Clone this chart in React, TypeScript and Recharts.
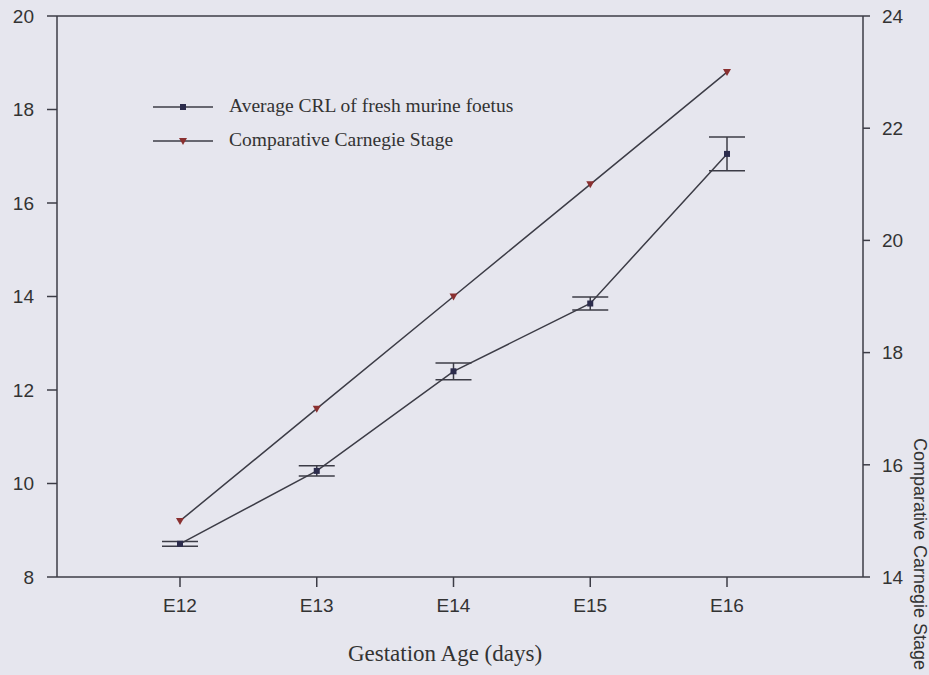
import { LineChart, Line, XAxis, YAxis, ErrorBar, ReferenceLine } from 'recharts';

const ages = ['E12', 'E13', 'E14', 'E15', 'E16'];
const crl = [8.71, 10.27, 12.4, 13.85, 17.05];
const crlErr = [0.05, 0.11, 0.18, 0.14, 0.36];
const carnegie = [15, 17, 19, 21, 23];
const leftTicks = [8, 10, 12, 14, 16, 18, 20];
const rightTicks = [14, 16, 18, 20, 22, 24];

const data = ages.map((age, i) => ({
  age,
  crl: crl[i],
  crlErr: crlErr[i],
  carnegie: carnegie[i],
}));

const bg = '#e6e6ee';
const ink = '#3c3c46';
const sans = 'Arial, "Liberation Sans", sans-serif';
const serif = '"Times New Roman", "Liberation Serif", serif';

const SquareDot = (props: any) => {
  const { cx, cy, index } = props;
  return <rect key={`s${index}`} x={cx - 3} y={cy - 3} width={6} height={6} fill="#2c2c4c" />;
};

const TriangleDot = (props: any) => {
  const { cx, cy, index } = props;
  return (
    <path
      key={`t${index}`}
      d={`M${cx - 4},${cy - 3} L${cx + 4},${cy - 3} L${cx},${cy + 4} Z`}
      fill="#8a3030"
    />
  );
};

const LegendBox = () => (
  <div style={{ position: 'absolute', left: 153, top: 95, fontFamily: serif, fontSize: 19.5, color: '#333' }}>
    <svg width={70} height={60} style={{ position: 'absolute', left: 0, top: 0 }}>
      <line x1={0} y1={12} x2={60} y2={12} stroke={ink} strokeWidth={1.3} />
      <rect x={27} y={9} width={6} height={6} fill="#2c2c4c" />
      <line x1={0} y1={46} x2={60} y2={46} stroke={ink} strokeWidth={1.3} />
      <path d="M26,43 L34,43 L30,50 Z" fill="#8a3030" />
    </svg>
    <div style={{ position: 'absolute', left: 76, top: 0, whiteSpace: 'nowrap' }}>
      Average CRL of fresh murine foetus
    </div>
    <div style={{ position: 'absolute', left: 76, top: 34, whiteSpace: 'nowrap' }}>
      Comparative Carnegie Stage
    </div>
  </div>
);

export default function App() {
  return (
    <div style={{ position: 'absolute', left: 0, top: 0, width: 929, height: 675, background: bg, overflow: 'hidden' }}>
      <LineChart width={929} height={675} data={data} margin={{ top: 16, right: 0, bottom: 58, left: 0 }}>
        <XAxis
          dataKey="age"
          xAxisId="bottom"
          height={40}
          padding={{ left: 123, right: 136 }}
          stroke={ink}
          strokeWidth={1.5}
          tickSize={10}
          tickMargin={12}
          tick={{ fill: '#333', fontSize: 19, fontFamily: sans }}
        />
        <YAxis
          yAxisId="left"
          width={57}
          domain={[8, 20]}
          ticks={leftTicks}
          stroke={ink}
          strokeWidth={1.5}
          tickSize={10}
          tickMargin={13}
          tick={{ fill: '#333', fontSize: 19, fontFamily: sans }}
        />
        <YAxis
          yAxisId="right"
          orientation="right"
          width={66}
          domain={[14, 24]}
          ticks={rightTicks}
          stroke={ink}
          strokeWidth={1.5}
          tickSize={7}
          tickMargin={12}
          tick={{ fill: '#333', fontSize: 19, fontFamily: sans }}
        />
        <ReferenceLine xAxisId="bottom" yAxisId="left" y={20} stroke={ink} strokeWidth={1.5} />
        <Line
          xAxisId="bottom"
          yAxisId="left"
          dataKey="crl"
          type="linear"
          stroke={ink}
          strokeWidth={1.5}
          dot={SquareDot}
          isAnimationActive={false}
        >
          <ErrorBar dataKey="crlErr" width={18} stroke={ink} strokeWidth={1.5} direction="y" />
        </Line>
        <Line
          xAxisId="bottom"
          yAxisId="right"
          dataKey="carnegie"
          type="linear"
          stroke={ink}
          strokeWidth={1.5}
          dot={TriangleDot}
          isAnimationActive={false}
        />
        <text x={445} y={661} textAnchor="middle" fontFamily={serif} fontSize={23} fill="#333">
          Gestation Age (days)
        </text>
        <text
          x={914}
          y={438}
          transform="rotate(90 914 438)"
          textAnchor="start"
          fontFamily={sans}
          fontSize={18}
          fill="#333"
        >
          Comparative Carnegie Stage
        </text>
      </LineChart>
      <LegendBox />
    </div>
  );
}
